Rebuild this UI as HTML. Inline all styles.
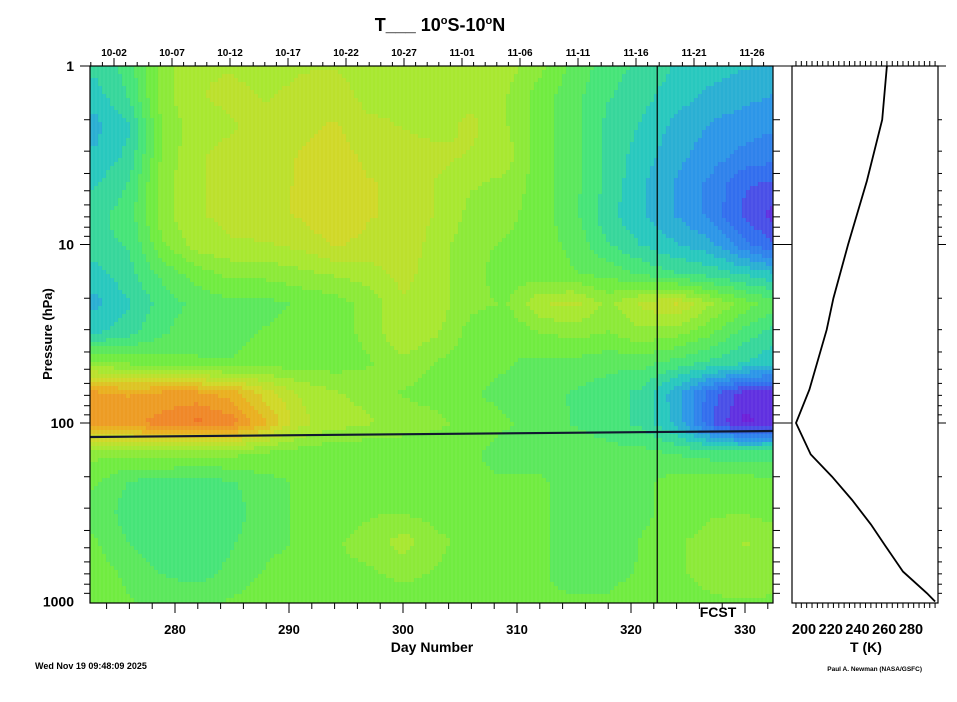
<!DOCTYPE html>
<html><head><meta charset="utf-8">
<style>
body{margin:0;background:#fff;width:957px;height:697px;overflow:hidden;font-family:"Liberation Sans",Arial,sans-serif}
svg text{font-family:"Liberation Sans",Arial,sans-serif;font-weight:bold;fill:#000}
</style></head><body>
<svg id="chart" width="957" height="697" xmlns="http://www.w3.org/2000/svg">
<defs><clipPath id="plotclip"><rect x="90" y="66" width="683" height="537"/></clipPath></defs>
<g id="field" clip-path="url(#plotclip)"></g>
<g id="overlay"></g>
<g id="axes"></g>
<g id="profile"></g>
<text x="440" y="31" font-size="18" text-anchor="middle">T___  10<tspan font-size="11" dy="-7">o</tspan><tspan dy="7">S-10</tspan><tspan font-size="11" dy="-7">o</tspan><tspan dy="7">N</tspan></text>
<text x="432" y="652" font-size="14" text-anchor="middle">Day Number</text>
<text x="52" y="334" font-size="13" text-anchor="middle" transform="rotate(-90 52 334)">Pressure (hPa)</text>
<text x="718" y="617" font-size="14" text-anchor="middle">FCST</text>
<text x="866" y="652" font-size="14" text-anchor="middle">T (K)</text>
<text x="35" y="669" font-size="9">Wed Nov 19 09:48:09 2025</text>
<text x="922" y="671" font-size="6.5" text-anchor="end">Paul A. Newman (NASA/GSFC)</text>
</svg>
<script>
const days=[273,276,279,282,285,288,291,294,297,300,303,306,309,312,315,318,321,324,327,330,333];
const pressureLevels=[1,1.47,2.15,3.16,4.64,6.81,10,14.7,21.5,31.6,46.4,68.1,100,147,215,316,464,681,1000];
const anomaly=[
[-0.8,-0.5,0.3,0.6,0.6,0.5,0.6,0.6,0.5,0.6,0.5,0.6,0.5,0.2,-0.2,-0.5,-0.7,-0.9,-1.0,-1.1,-1.2],
[-1.0,-0.6,0.3,0.6,0.7,0.6,0.7,0.8,0.5,0.6,0.6,0.5,0.4,0.0,-0.3,-0.6,-0.8,-1.0,-1.2,-1.3,-1.4],
[-1.2,-0.9,0.2,0.5,0.6,0.7,0.8,0.9,0.7,0.6,0.5,0.7,0.4,0.0,-0.3,-0.7,-0.9,-1.2,-1.4,-1.5,-1.6],
[-1.1,-0.8,0.2,0.6,0.7,0.7,0.9,1.0,0.8,0.8,0.7,0.6,0.5,0.0,-0.3,-0.7,-1.0,-1.3,-1.5,-1.7,-1.8],
[-0.9,-0.6,0.3,0.6,0.7,0.8,0.9,1.1,0.9,0.8,0.6,0.4,0.3,0.0,-0.3,-0.7,-1.1,-1.4,-1.7,-2.1,-2.2],
[-0.7,-0.5,0.3,0.6,0.7,0.8,0.9,1.1,0.9,0.8,0.6,0.3,0.2,0.0,-0.3,-0.8,-1.1,-1.4,-1.7,-2.2,-2.5],
[-0.7,-0.6,0.1,0.5,0.6,0.6,0.7,0.9,0.8,0.8,0.5,0.2,0.1,0.0,-0.2,-0.6,-0.9,-1.1,-1.3,-1.8,-2.2],
[-1.0,-0.7,-0.3,0.0,0.2,0.2,0.3,0.4,0.5,0.7,0.5,0.2,0.0,0.0,-0.1,-0.2,-0.4,-0.6,-0.7,-0.9,-1.1],
[-1.2,-0.9,-0.5,-0.3,-0.2,-0.2,-0.1,0.0,0.2,0.6,0.5,0.2,0.1,0.6,0.7,0.3,0.7,0.9,0.4,0.0,-0.3],
[-0.9,-0.7,-0.4,-0.2,-0.2,-0.1,0.0,0.0,0.2,0.6,0.4,0.0,-0.1,0.1,0.2,0.1,0.3,0.2,-0.1,-0.5,-0.8],
[0.2,0.1,0.0,-0.1,-0.1,0.0,0.0,0.0,0.1,0.3,0.1,0.0,-0.1,-0.2,-0.2,-0.3,-0.3,-0.5,-0.7,-0.9,-1.1],
[1.7,1.6,1.7,1.7,1.5,1.0,0.6,0.4,0.3,0.1,0.0,-0.1,-0.2,-0.3,-0.4,-0.5,-0.7,-1.3,-2.0,-2.5,-2.5],
[1.8,1.8,2.0,2.2,2.0,1.4,0.7,0.5,0.4,0.3,0.2,0.0,-0.1,-0.2,-0.4,-0.5,-0.7,-1.2,-2.1,-2.7,-2.5],
[0.2,0.2,0.3,0.2,0.2,0.1,0.0,-0.1,-0.1,-0.1,-0.1,-0.1,-0.2,-0.2,-0.2,-0.3,-0.3,-0.4,-0.5,-0.5,-0.5],
[-0.1,-0.4,-0.5,-0.5,-0.4,-0.2,-0.1,0.0,0.0,0.0,0.0,-0.1,-0.1,-0.1,-0.2,-0.3,-0.2,0.0,0.0,0.0,-0.1],
[-0.2,-0.5,-0.6,-0.6,-0.5,-0.2,-0.1,0.0,0.1,0.1,0.0,0.0,-0.1,-0.1,-0.2,-0.3,-0.2,0.0,0.1,0.1,0.0],
[-0.1,-0.4,-0.6,-0.6,-0.4,-0.2,-0.1,0.1,0.2,0.5,0.2,0.0,0.0,-0.1,-0.2,-0.3,-0.1,0.1,0.2,0.4,0.3],
[0.0,-0.2,-0.4,-0.5,-0.3,-0.1,0.0,0.1,0.1,0.2,0.1,0.0,0.0,-0.1,-0.2,-0.2,-0.1,0.1,0.2,0.3,0.2],
[0.0,-0.1,-0.2,-0.2,-0.1,0.0,0.0,0.0,0.0,0.0,0.0,0.0,0.0,-0.1,-0.1,-0.1,0.0,0.0,0.1,0.1,0.1]];
const dayTicks=[280,290,300,310,320,330];
const dateLabels=['10-02','10-07','10-12','10-17','10-22','10-27','11-01','11-06','11-11','11-16','11-21','11-26'];
const dateDays=[275,280,285,290,295,300,305,310,315,320,325,330];
const pressureTicks=[1,10,100,1000];
const profileP=[1,2,4.4,10,20,30,65,100,150,200,270,370,490,680,900,1000];
const profileT=[262,258.5,247,233,222,217,204,194,205,221,236,250,261,274,292,298];
const tempTicks=[200,220,240,260,280];
const forecastDay=322.3;

const NS='http://www.w3.org/2000/svg';
function xDay(d){return 175+(d-280)*11.4;}
function xDate(d){return 114+(d-275)*11.6;}
function yP(p){return 66+Math.log10(p)*178.5;}
function xT(t){return 804+(t-200)*1.3375;}
function mk(tag,attrs,parent){const e=document.createElementNS(NS,tag);for(const k in attrs)e.setAttribute(k,attrs[k]);parent.appendChild(e);return e;}
const stops=[[-3,[120,16,208]],[-2.5,[96,48,224]],[-2,[50,110,238]],[-1.5,[44,150,232]],[-1,[40,200,190]],[-0.5,[70,228,120]],[0,[112,236,64]],[0.5,[168,232,48]],[1,[208,216,40]],[1.5,[234,176,32]],[2,[240,136,40]],[2.5,[240,96,32]]];
function color(v){
  v=Math.round(v*4)/4;
  if(v<=stops[0][0])return 'rgb('+stops[0][1]+')';
  for(let i=1;i<stops.length;i++){if(v<=stops[i][0]){const a=stops[i-1],b=stops[i],t=(v-a[0])/(b[0]-a[0]);return 'rgb('+a[1].map((c,k)=>Math.round(c+(b[1][k]-c)*t)).join(',')+')';}}
  return 'rgb('+stops[stops.length-1][1]+')';
}
function interp(arr,v){
  if(v<=arr[0])return 0; for(let i=1;i<arr.length;i++){if(v<=arr[i])return i-1+(v-arr[i-1])/(arr[i]-arr[i-1]);} return arr.length-1;}
function sample(d,lp){
  const fi=interp(days,d), lps=pressureLevels.map(p=>Math.log10(p)), fj=interp(lps,lp);
  const i0=Math.min(Math.floor(fi),days.length-2), j0=Math.min(Math.floor(fj),pressureLevels.length-2);
  const tx=fi-i0, ty=fj-j0;
  const a=anomaly[j0][i0],b=anomaly[j0][i0+1],c=anomaly[j0+1][i0],e=anomaly[j0+1][i0+1];
  return a*(1-tx)*(1-ty)+b*tx*(1-ty)+c*(1-tx)*ty+e*tx*ty;
}
const field=document.getElementById('field');
const step=4;
for(let y=66;y<603;y+=step){
  for(let x=90;x<773;x+=step){
    const d=280+(x+step/2-175)/11.4, lp=(y+step/2-66)/178.5;
    const r=mk('rect',{x:x,y:y,width:step+0.6,height:step+0.6,fill:color(sample(d,lp))},field);
    
    
  }
}
const ov=document.getElementById('overlay');
for(let x=92;x<773;x+=4){mk('line',{x1:x,y1:66,x2:x,y2:603,stroke:'#fff','stroke-opacity':0.08,'stroke-width':1},ov);}
const trop=mk('line',{x1:90,y1:437,x2:773,y2:431,stroke:'#101830','stroke-width':2.2},ov);


const fc=mk('line',{x1:xDay(forecastDay),y1:66,x2:xDay(forecastDay),y2:603,stroke:'#000','stroke-width':1.2},ov);


const ax=document.getElementById('axes');
const frame=mk('rect',{x:90,y:66,width:683,height:537,fill:'none',stroke:'#000','stroke-width':1.2},ax);


for(let d=273;d<=332;d++){
  const x=xDay(d), maj=d%10===0;
  if(d%2===0||maj) mk('line',{x1:x,y1:603,x2:x,y2:603+(maj?10:6),stroke:'#000','stroke-width':1},ax);
}
dayTicks.forEach(d=>{const t=mk('text',{x:xDay(d),y:634,'font-size':13,'text-anchor':'middle'},ax);t.textContent=d;
  
  });
for(let d=273;d<=332;d++){const x=xDate(d);if(x>90&&x<773)mk('line',{x1:x,y1:66,x2:x,y2:d%5===0?58:62,stroke:'#000','stroke-width':1},ax);}
dateLabels.forEach((s,i)=>{const t=mk('text',{x:xDate(dateDays[i]),y:56,'font-size':10,'text-anchor':'middle'},ax);t.textContent=s;
  
  });
for(let dec=0;dec<3;dec++){for(let m=1;m<=9;m++){const p=m*Math.pow(10,dec),y=yP(p);
  mk('line',{x1:m===1?80:84,y1:y,x2:90,y2:y,stroke:'#000','stroke-width':1},ax);
  mk('line',{x1:773,y1:y,x2:m===1?792:780,y2:y,stroke:'#000','stroke-width':1},ax);
  mk('line',{x1:938,y1:y,x2:m===1?946:942,y2:y,stroke:'#000','stroke-width':1},ax);
}}
pressureTicks.forEach(p=>{const t=mk('text',{x:74,y:yP(p)+5,'font-size':14,'text-anchor':'end'},ax);t.textContent=p;
  
  });
const pr=document.getElementById('profile');
mk('rect',{x:792,y:66,width:146,height:537,fill:'#fff',stroke:'#000','stroke-width':1.2},pr);
for(let t=194;t<=300;t+=4){const x=xT(t);if(x>792&&x<938){const big=t%20===0;
  mk('line',{x1:x,y1:603,x2:x,y2:603+(big?9:5),stroke:'#000'},pr);
  mk('line',{x1:x,y1:66,x2:x,y2:66-(big?9:5),stroke:'#000'},pr);}}
tempTicks.forEach(tk=>{const t=mk('text',{x:xT(tk),y:634,'font-size':14.5,'text-anchor':'middle'},pr);t.textContent=tk;
  
  });
const line=mk('polyline',{points:profileP.map((p,i)=>xT(profileT[i]).toFixed(1)+','+yP(p).toFixed(1)).join(' '),fill:'none',stroke:'#000','stroke-width':1.8},pr);


</script>
</body></html>
